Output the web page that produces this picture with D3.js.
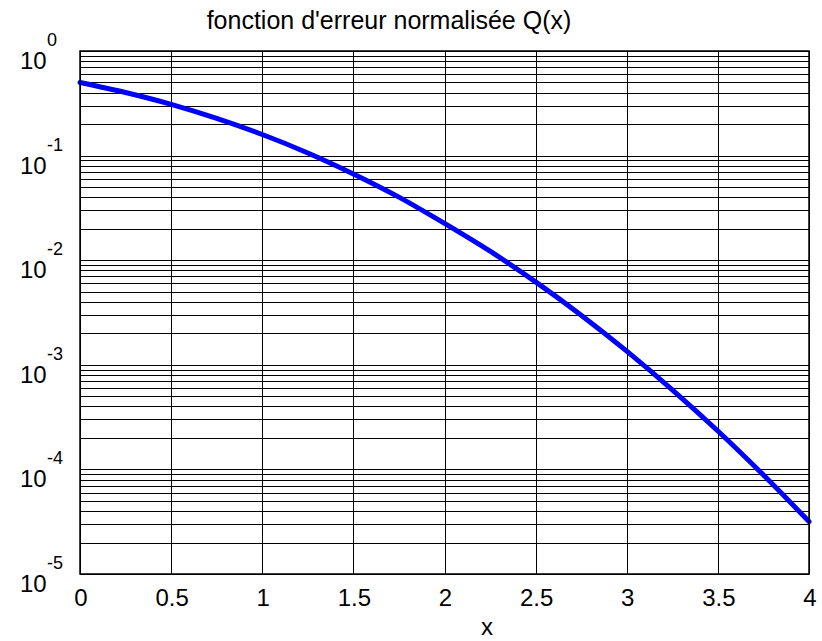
<!DOCTYPE html>
<html>
<head>
<meta charset="utf-8">
<script src="https://cdn.jsdelivr.net/npm/d3@7"></script>
<style>
  html, body { margin: 0; padding: 0; background: #fff; }
  svg { display: block; font-family: "Liberation Sans", Arial, sans-serif; }
</style>
</head>
<body>
<svg width="822" height="641"></svg>
<script>
"use strict";

// values
const xs = [0, 0.25, 0.5, 0.75, 1, 1.25, 1.5, 1.75, 2, 2.25, 2.5, 2.75, 3, 3.25, 3.5, 3.75, 4]
const qs = [0.5, 0.401, 0.309, 0.227, 0.159, 0.106, 0.0668, 0.0401, 0.0225, 0.0122,
            0.0062, 0.00298, 0.00135, 0.000577, 0.000233, 0.0000884, 0.0000317]
const xTicks = [0, 0.5, 1, 1.5, 2, 2.5, 3, 3.5, 4]
const decades = [0, -1, -2, -3, -4, -5]
const title = "fonction d'erreur normalisée Q(x)"
const xLabel = "x"

;(function() {
	const svg = d3.select("svg")
	const L = 80, R = 809, T = 51, B = 574

	const x = d3.scaleLinear().domain([0, 4]).range([L, R])
	const y = d3.scaleLog().domain([1e-5, 1]).range([B, T])
	const crisp = v => Math.round(v) + 0.5

	// grid
	const grid = svg.append("g").attr("stroke", "#000").attr("stroke-width", 1)
	grid.selectAll("line.h")
		.data(y.ticks())
		.enter().append("line")
		.attr("class", "h")
		.attr("x1", L).attr("x2", R)
		.attr("y1", d => crisp(y(d))).attr("y2", d => crisp(y(d)))
	grid.selectAll("line.v")
		.data(xTicks)
		.enter().append("line")
		.attr("class", "v")
		.attr("y1", T).attr("y2", B)
		.attr("x1", d => crisp(x(d))).attr("x2", d => crisp(x(d)))

	// curve
	const line = d3.line()
		.x((d, i) => x(xs[i]))
		.y(d => y(d))
		.curve(d3.curveMonotoneX)
	svg.append("path")
		.datum(qs)
		.attr("d", line)
		.attr("fill", "none")
		.attr("stroke", "#0000ff")
		.attr("stroke-width", 5)
		.attr("stroke-linejoin", "round")
		.attr("stroke-linecap", "round")

	// frame
	svg.append("rect")
		.attr("x", L).attr("y", T)
		.attr("width", R - L).attr("height", B - T)
		.attr("fill", "none")
		.attr("stroke", "#000")
		.attr("stroke-width", 1.5)

	// x tick labels
	svg.append("g").selectAll("text")
		.data(xTicks)
		.enter().append("text")
		.attr("x", d => x(d) + 1)
		.attr("y", 606)
		.attr("text-anchor", "middle")
		.attr("font-size", 24)
		.text(d => d)

	// y tick labels 10^k
	const yl = svg.append("g")
	yl.selectAll("text.base")
		.data(decades)
		.enter().append("text")
		.attr("class", "base")
		.attr("x", 20)
		.attr("y", d => y(Math.pow(10, d)) + 18)
		.attr("font-size", 24)
		.text("10")
	yl.selectAll("text.exp")
		.data(decades)
		.enter().append("text")
		.attr("class", "exp")
		.attr("x", 47)
		.attr("y", d => y(Math.pow(10, d)) - 5)
		.attr("font-size", 18)
		.text(d => d == 0 ? "0" : "-" + (-d))

	// title and label
	svg.append("text")
		.attr("x", 389).attr("y", 29)
		.attr("text-anchor", "middle")
		.attr("font-size", 25)
		.text(title)
	svg.append("text")
		.attr("x", 487).attr("y", 635)
		.attr("text-anchor", "middle")
		.attr("font-size", 24)
		.text(xLabel)
})()
</script>
</body>
</html>
